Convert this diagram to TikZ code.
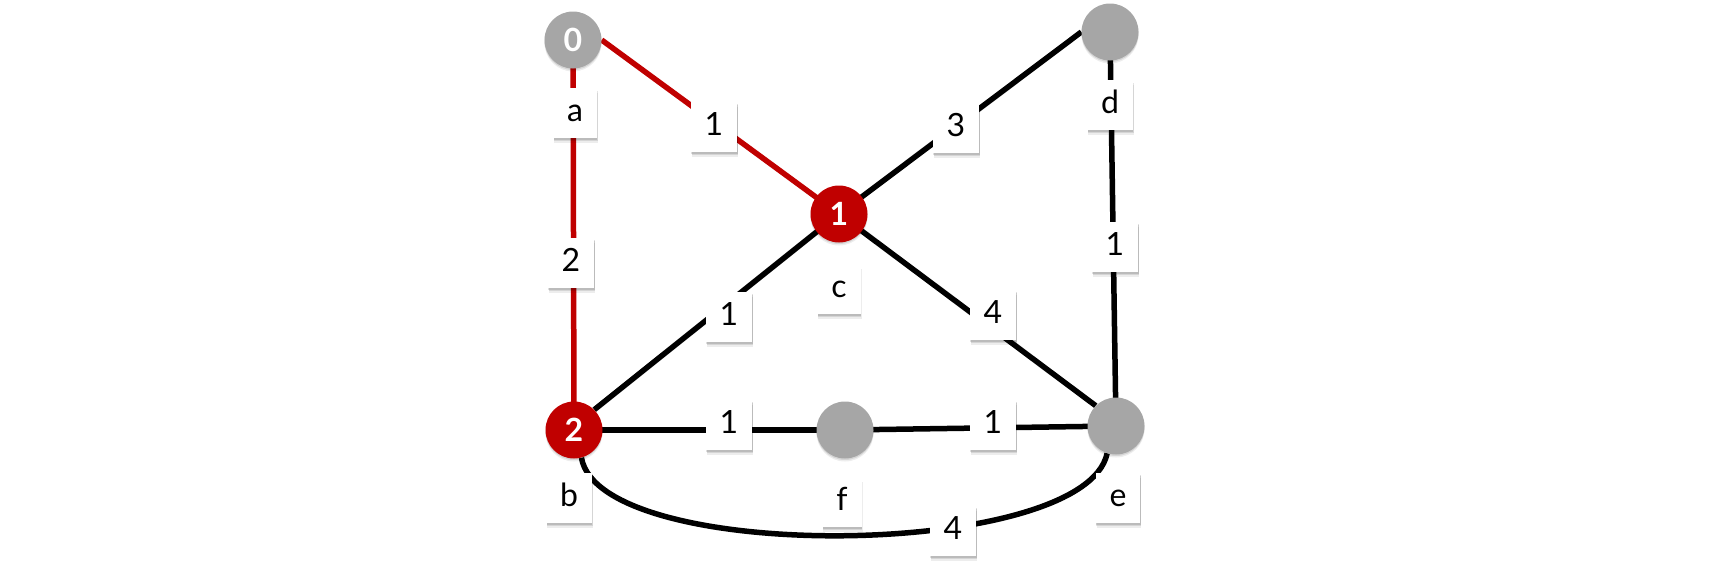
\documentclass[tikz,border=0pt]{standalone}
\usepackage{fontspec}
\setmainfont{Lato}
\usetikzlibrary{backgrounds}
\definecolor{nodegray}{HTML}{A6A6A6}
\definecolor{nodered}{HTML}{C00000}
\begin{document}
\begin{tikzpicture}[x=1pt,y=-1pt,
  softshadow/.style={preaction={fill=black, fill opacity=#1, draw=none}},
  vtx/.style={circle, minimum size=57pt, inner sep=0pt,
    font=\fontsize{32}{38}\selectfont\bfseries, text=white,
    preaction={fill=black, fill opacity=0.10, transform canvas={yshift=-1.5pt}},
    preaction={fill=black, fill opacity=0.07, transform canvas={yshift=-3pt}}},
  gv/.style={vtx, fill=nodegray},
  rv/.style={vtx, fill=nodered},
  lbox/.style={fill=white, inner xsep=14pt, inner ysep=10pt,
    text height=23pt, text depth=7pt,
    font=\fontsize{32}{38}\selectfont, text=black,
    preaction={fill=black, fill opacity=0.12, transform canvas={xshift=0.5pt, yshift=-1.5pt}},
    preaction={fill=black, fill opacity=0.10, transform canvas={xshift=0.8pt, yshift=-3pt}},
    preaction={fill=black, fill opacity=0.07, transform canvas={xshift=1pt, yshift=-4.5pt}}},
  bedge/.style={line width=5.5pt, draw=black},
  redge/.style={line width=5.5pt, draw=nodered}]
\useasboundingbox (0,0) rectangle (1731,581);
% vertices
\node[gv] (a) at (573,40) {0};
\node[rv] (c) at (839,214) {1};
\node[gv] (d) at (1110,32) {};
\node[rv] (b) at (574,430) {2};
\node[gv] (f) at (845,430) {};
\node[gv] (e) at (1116,426) {};
% edges
\begin{pgfonlayer}{background}
\draw[redge] (a.center) -- (b.center);
\draw[redge] (a.east) -- (c.center);
\draw[bedge] (c.center) -- (d.west);
\draw[bedge] (c.center) -- (b.north east);
\draw[bedge] (c.center) -- (e.north west);
\draw[bedge] (d.center) -- (e.center);
\draw[bedge] (b.center) -- (f.center);
\draw[bedge] (f.center) -- (e.center);
\draw[bedge] (b.-75) .. controls (600,565) and (1085,560) .. (e.-108);
\end{pgfonlayer}
% vertex names
\node[lbox] (la) at (575,113) {a};
\node[lbox] (lb) at (569,498) {b};
\node[lbox] (lc) at (839,289) {c};
\node[lbox] (ld) at (1110,105) {d};
\node[lbox] (le) at (1118,498) {e};
\node[lbox] (lf) at (842,502) {f};
% weights
\node[lbox] (wab) at (571,263) {2};
\node[lbox] (wac) at (714,127) {1};
\node[lbox] (wcd) at (956,128) {3};
\node[lbox] (wcb) at (729,317) {1};
\node[lbox] (wce) at (993,315) {4};
\node[lbox] (wde) at (1115,247) {1};
\node[lbox] (wbf) at (729,425) {1};
\node[lbox] (wfe) at (993,425) {1};
\node[lbox] (wbe) at (953,531) {4};
\end{tikzpicture}
\end{document}
